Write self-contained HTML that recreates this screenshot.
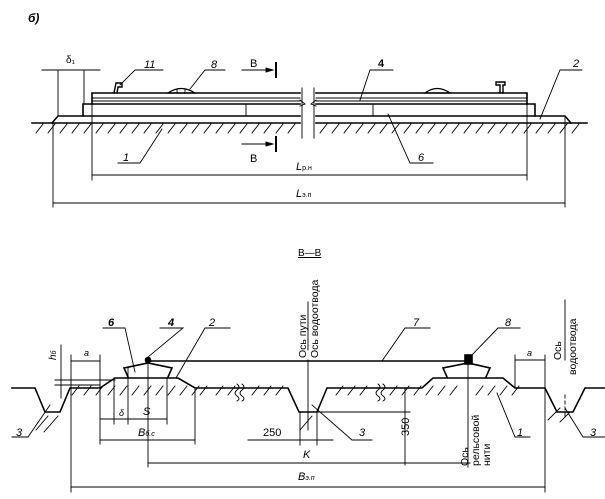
<!DOCTYPE html>
<html><head><meta charset="utf-8"><style>
html,body{margin:0;padding:0;background:#fff}
svg{display:block}
text{font-family:"Liberation Sans",sans-serif;fill:#000}
.i{font-style:italic}
</style></head><body>
<svg width="605" height="499" viewBox="0 0 605 499" xmlns="http://www.w3.org/2000/svg" stroke="#000" fill="none" stroke-linecap="square">
<text x="28" y="22" font-size="12" class="i" font-weight="bold" stroke="none">б)</text>
<!-- TOP VIEW -->
<g stroke-width="1.6">
<line x1="32" y1="123" x2="300" y2="123"/><line x1="316" y1="123" x2="587" y2="123"/>
<path d="M52 123 L58 116 L300 116 M316 116 L565 116 L571 123"/>
<path d="M83 116 V104 H300 M316 104 H535 V116"/>
<path d="M92 104 V93 H300 M316 93 H527 V104"/>
</g>
<g stroke-width="0.9">
<line x1="92" y1="98" x2="300" y2="98"/><line x1="316" y1="98" x2="527" y2="98"/>
<line x1="92" y1="101" x2="300" y2="101"/><line x1="316" y1="101" x2="527" y2="101"/>
<line x1="246" y1="104" x2="246" y2="116"/><line x1="373" y1="104" x2="373" y2="116"/>
<line x1="302" y1="88" x2="302" y2="138"/><line x1="314" y1="88" x2="314" y2="138"/>
<path d="M300 100 L305 104 L300 106 M316 100 L311 104 L316 106"/>
<path d="M114 93 L116 83 H122 V87 H118 L117 93" stroke-width="1.4"/>
<path d="M168 93 Q181 84 195 93 Z" stroke-width="1.2"/>
<line x1="177" y1="89" x2="177" y2="93"/><line x1="185" y1="89" x2="185" y2="93"/>
<path d="M500 93 L500 85 H496 V82 H505 V85 H503 V93" stroke-width="1.4"/>
<path d="M425 93 Q437 84 450 93 Z" stroke-width="1.2"/>
<line x1="42" y1="70" x2="100" y2="70"/>
<line x1="58" y1="70" x2="58" y2="116"/><line x1="84" y1="70" x2="84" y2="104"/>
<line x1="92" y1="104" x2="92" y2="180"/><line x1="527" y1="104" x2="527" y2="180"/>
<line x1="92" y1="175" x2="527" y2="175"/>
<line x1="53" y1="123" x2="53" y2="207"/><line x1="565" y1="116" x2="565" y2="207"/>
<line x1="53" y1="203" x2="565" y2="203"/>
<path d="M163 70 H135 L120 85"/>
<path d="M225 70 H205 L190 89"/>
<path d="M393 70 H370 L360 100"/>
<path d="M582 70 H560 L540 119"/>
<path d="M118 163 H140 L162 129"/>
<path d="M433 163 H410 L388 114"/>
<line x1="242" y1="70" x2="272" y2="70"/><path d="M266 68 L273 70 L266 72 Z" fill="#000"/>
<line x1="276" y1="63" x2="276" y2="77" stroke-width="2"/>
<line x1="242" y1="144" x2="272" y2="144"/><path d="M266 142 L273 144 L266 146 Z" fill="#000"/>
<line x1="276" y1="137" x2="276" y2="151" stroke-width="2"/>
</g>
<g stroke-width="0.9">
<path d="M36 133l7-9 M48 133l7-9 M60 133l7-9 M72 133l7-9 M84 133l7-9 M96 133l7-9 M108 133l7-9 M120 133l7-9 M132 133l7-9 M144 133l7-9 M156 133l7-9 M168 133l7-9 M180 133l7-9 M192 133l7-9 M204 133l7-9 M216 133l7-9 M228 133l7-9 M240 133l7-9 M252 133l7-9 M264 133l7-9 M276 133l7-9 M288 133l7-9 M320 133l7-9 M332 133l7-9 M344 133l7-9 M356 133l7-9 M368 133l7-9 M380 133l7-9 M392 133l7-9 M404 133l7-9 M416 133l7-9 M428 133l7-9 M440 133l7-9 M452 133l7-9 M464 133l7-9 M476 133l7-9 M488 133l7-9 M500 133l7-9 M512 133l7-9 M524 133l7-9 M536 133l7-9 M548 133l7-9 M560 133l7-9 M572 133l7-9"/>
</g>
<g stroke="none" font-size="11">
<text x="66" y="63" font-size="10">δ₁</text>
<text x="144" y="68" class="i">11</text>
<text x="211" y="68" class="i">8</text>
<text x="250" y="67">В</text>
<text x="250" y="162">В</text>
<text x="378" y="67" font-weight="bold">4</text>
<text x="573" y="67" class="i">2</text>
<text x="123" y="161" class="i">1</text>
<text x="418" y="161" class="i">6</text>
<text x="296" y="170" class="i">L<tspan font-size="7" font-style="normal">р.н</tspan></text>
<text x="296" y="197" class="i">L<tspan font-size="7" font-style="normal">э.п</tspan></text>
</g>
<!-- SECTION -->
<g stroke-width="1.6">
<path d="M12 388 H35 L45 412 H60 L70 388 H100 L115 378 H178 L195 388 H288 L299 412 H317 L327 388 H422 L433 378 H503 L515 388 H545 L557 412 H573 L585 388 H605"/>
<path d="M128 377 L124 368 L148 363 L172 368 L168 377"/>
<path d="M447 377 L443 368 L468 363 L490 368 L486 377"/>
<line x1="148" y1="361" x2="470" y2="361"/>
<circle cx="148" cy="360" r="2.5" fill="#000"/>
<rect x="465" y="355" width="7" height="9" fill="#000"/>
</g>
<g stroke-width="0.9">
<path d="M216 395l7-9 M228 395l7-9 M252 395l7-9 M264 395l7-9 M276 395l7-9 M336 395l7-9 M348 395l7-9 M360 395l7-9 M390 395l7-9 M402 395l7-9 M414 395l7-9 M426 395l7-9 M438 395l7-9 M450 395l7-9 M476 395l7-9 M488 395l7-9 M500 395l7-9 M512 395l7-9 M72 395l7-9 M84 395l7-9 M96 395l7-9 M108 395l7-9 M120 395l7-9 M132 395l7-9 M144 395l7-9 M156 395l7-9 M168 395l7-9 M180 395l7-9 M192 395l7-9 M200 395l7-9"/>
<path d="M36 430l12-14 M44 432l14-16 M300 430l12-14 M548 420l12-12 M560 422l10-10"/>
<path d="M237 384 q4 3 0 6 q-4 3 0 6 q4 3 0 5 M242 384 q4 3 0 6 q-4 3 0 6 q4 3 0 5 M378 384 q4 3 0 6 q-4 3 0 6 q4 3 0 5 M383 384 q4 3 0 6 q-4 3 0 6 q4 3 0 5" stroke="#000" stroke-width="0.9"/>
<line x1="61" y1="345" x2="61" y2="398"/>
<line x1="55" y1="380" x2="115" y2="380"/><line x1="55" y1="385" x2="100" y2="385"/>
<line x1="71" y1="355" x2="71" y2="492"/><line x1="100" y1="355" x2="100" y2="444"/>
<line x1="71" y1="361" x2="100" y2="361"/>
<line x1="195" y1="388" x2="195" y2="444"/><line x1="100" y1="440" x2="195" y2="440"/>
<line x1="114" y1="378" x2="114" y2="424"/><line x1="128" y1="368" x2="128" y2="424"/><line x1="167" y1="378" x2="167" y2="424"/>
<line x1="100" y1="419" x2="167" y2="419"/>
<line x1="148" y1="362" x2="148" y2="467"/>
<line x1="148" y1="463" x2="470" y2="463"/>
<line x1="468" y1="364" x2="468" y2="467"/>
<line x1="71" y1="487" x2="545" y2="487"/>
<line x1="545" y1="355" x2="545" y2="492"/><line x1="515" y1="355" x2="515" y2="388"/>
<line x1="515" y1="360" x2="545" y2="360"/>
<line x1="308" y1="360" x2="308" y2="430"/>
<line x1="308" y1="302" x2="308" y2="350"/>
<line x1="248" y1="440" x2="333" y2="440"/>
<line x1="300" y1="412" x2="300" y2="445"/><line x1="317" y1="412" x2="317" y2="445"/>
<line x1="317" y1="412" x2="410" y2="412"/>
<line x1="405" y1="388" x2="405" y2="465"/>
<line x1="565" y1="300" x2="565" y2="360"/>
<line x1="565" y1="395" x2="565" y2="418" stroke-dasharray="3 3"/>
<path d="M103 328 H125 L135 372"/>
<path d="M160 328 H183 L148 357"/>
<path d="M230 328 H205 L176 378"/>
<path d="M430 328 H405 L382 361"/>
<path d="M520 328 H498 L470 357"/>
<path d="M12 437 H28 L50 405"/>
<path d="M372 440 H352 L312 405"/>
<path d="M530 437 H515 L497 393"/>
<path d="M605 437 H583 L565 408"/>
</g>
<g stroke="none" font-size="11">
<text x="298" y="256" font-size="10" text-decoration="underline">В—В</text>
<text x="108" y="326" class="i" font-weight="bold">6</text>
<text x="168" y="326" class="i" font-weight="bold">4</text>
<text x="209" y="326" class="i">2</text>
<text x="413" y="326" class="i">7</text>
<text x="505" y="326" class="i">8</text>
<text x="84" y="356" class="i" font-size="9">a</text>
<text x="527" y="356" class="i" font-size="9">a</text>
<text transform="translate(56,360) rotate(-90)" class="i" font-size="10">h<tspan font-size="7">б</tspan></text>
<text x="119" y="416" class="i" font-size="9">δ</text>
<text x="143" y="415" class="i">S</text>
<text x="138" y="436" class="i">B<tspan font-size="7">б.с</tspan></text>
<text x="16" y="436" class="i">3</text>
<text x="263" y="436">250</text>
<text x="359" y="436" class="i">3</text>
<text transform="translate(409,436) rotate(-90)">350</text>
<text x="303" y="458" class="i">K</text>
<text x="298" y="480" class="i">B<tspan font-size="7">э.п</tspan></text>
<text x="517" y="436" class="i">1</text>
<text x="590" y="436" class="i">3</text>
<text transform="translate(306,358) rotate(-90)" font-size="10.5">Ось пути</text>
<text transform="translate(318,358) rotate(-90)" font-size="10.5">Ось водоотвода</text>
<text transform="translate(468,466) rotate(-90)" font-size="10.5">Ось</text>
<text transform="translate(479,466) rotate(-90)" font-size="10.5">рельсовой</text>
<text transform="translate(490,466) rotate(-90)" font-size="10.5">нити</text>
<text transform="translate(561,360) rotate(-90)" font-size="10.5">Ось</text>
<text transform="translate(576,375) rotate(-90)" font-size="10.5">водоотвода</text>
</g>
</svg>
</body></html>
